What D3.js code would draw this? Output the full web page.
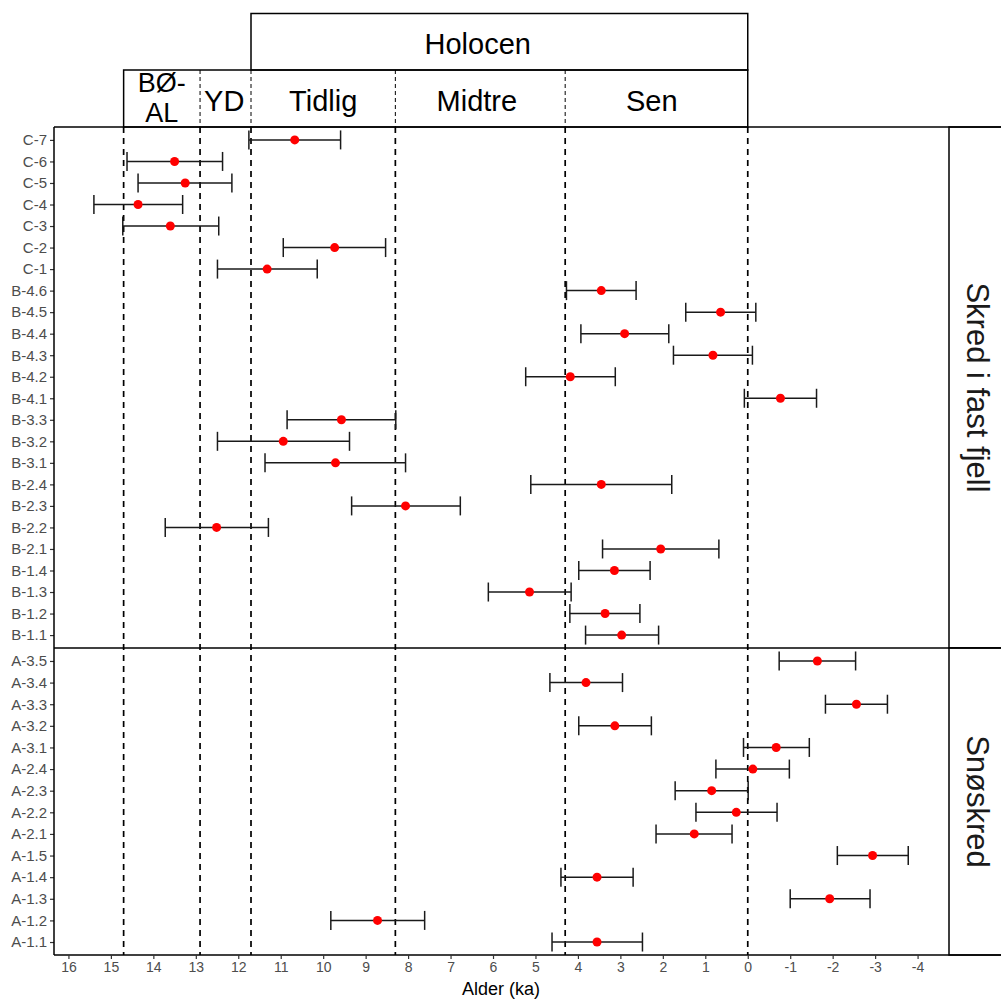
<!DOCTYPE html>
<html><head><meta charset="utf-8">
<script src="https://cdn.jsdelivr.net/npm/d3@7"></script>
<style>body{margin:0;background:#fff}svg{display:block}text{font-family:"Liberation Sans",Arial,sans-serif}</style>
</head><body><svg id="c" width="1001" height="1001"></svg>
<script>
const topLabels = ["C-7","C-6","C-5","C-4","C-3","C-2","C-1","B-4.6","B-4.5","B-4.4","B-4.3","B-4.2","B-4.1","B-3.3","B-3.2","B-3.1","B-2.4","B-2.3","B-2.2","B-2.1","B-1.4","B-1.3","B-1.2","B-1.1"];
const topAge   = [10.67,13.50,13.25,14.36,13.60,9.73,11.32,3.45,0.64,2.90,0.82,4.18,-0.77,9.57,10.94,9.71,3.45,8.06,12.51,2.05,3.14,5.14,3.36,2.97];
const topOld   = [11.75,14.62,14.36,15.40,14.72,10.94,12.49,4.27,1.46,3.93,1.75,5.23,0.08,10.85,12.49,11.37,5.11,9.33,13.72,3.42,3.98,6.11,4.19,3.82];
const topYoung = [9.59,12.37,12.15,13.31,12.46,8.53,10.14,2.63,-0.19,1.86,-0.11,3.12,-1.62,8.29,9.38,8.06,1.79,6.77,11.29,0.68,2.30,4.16,2.54,2.10];

const botLabels = ["A-3.5","A-3.4","A-3.3","A-3.2","A-3.1","A-2.4","A-2.3","A-2.2","A-2.1","A-1.5","A-1.4","A-1.3","A-1.2","A-1.1"];
const botAge   = [-1.64,3.81,-2.56,3.13,-0.67,-0.12,0.85,0.27,1.26,-2.94,3.55,-1.93,8.72,3.55];
const botOld   = [-0.74,4.66,-1.83,3.98,0.10,0.75,1.71,1.22,2.16,-2.11,4.40,-1.00,9.82,4.61];
const botYoung = [-2.54,2.95,-3.29,2.27,-1.45,-0.98,-0.01,-0.69,0.37,-3.78,2.70,-2.88,7.61,2.48];

const facetNames = ["Skred i fast fjell","Snøskred"];
const boundaries = [14.7,12.9,11.7,8.3,4.3,0];
const periodNames = [["BØ-","AL"],["YD"],["Tidlig"],["Midtre"],["Sen"]];
const periodLabelAt = [13.8,12.33,10.0,6.38,2.26];
const epochName = "Holocen";
const epochLabelAt = 6.36;
const xTicks = [16,15,14,13,12,11,10,9,8,7,6,5,4,3,2,1,0,-1,-2,-3,-4];
const xTitle = "Alder (ka)";

const svg = d3.select("#c");
const L = 54, R = 949, T = 127, M = 648, B = 955;
const x = d3.scaleLinear().domain([16.34,-4.74]).range([L,R]);

const panels = [
  {labels: topLabels, age: topAge, old: topOld, young: topYoung, y0: T, y1: M, name: facetNames[0]},
  {labels: botLabels, age: botAge, old: botOld, young: botYoung, y0: M, y1: B, name: facetNames[1]}
];

svg.append("g").selectAll("line").data(boundaries).join("line")
  .attr("x1", d=>x(d)).attr("x2", d=>x(d)).attr("y1", T).attr("y2", B)
  .attr("stroke","#000").attr("stroke-width",1.7).attr("stroke-dasharray","6,5");

panels.forEach(p => {
  const y = d3.scalePoint().domain(p.labels).range([p.y0,p.y1]).padding(0.6);
  const g = svg.append("g");
  const rows = p.labels.map((l,i)=>({l, a:p.age[i], o:p.old[i], yg:p.young[i]}));
  g.selectAll(".eb").data(rows).join("line")
    .attr("x1", d=>x(d.o)).attr("x2", d=>x(d.yg)).attr("y1", d=>y(d.l)).attr("y2", d=>y(d.l))
    .attr("stroke","#1a1a1a").attr("stroke-width",1.5);
  ["o","yg"].forEach(k=>{
    g.selectAll(".cap"+k).data(rows).join("line")
      .attr("x1", d=>x(d[k])).attr("x2", d=>x(d[k])).attr("y1", d=>y(d.l)-9.5).attr("y2", d=>y(d.l)+9.5)
      .attr("stroke","#1a1a1a").attr("stroke-width",1.5);
  });
  g.selectAll("circle").data(rows).join("circle")
    .attr("cx", d=>x(d.a)).attr("cy", d=>y(d.l)).attr("r",4.5).attr("fill","#f00");
  const ax = svg.append("g").attr("transform",`translate(${L},0)`)
    .call(d3.axisLeft(y).tickSize(4).tickPadding(3));
  ax.select(".domain").remove();
  ax.selectAll(".tick line").attr("stroke","#333").attr("stroke-width",1.2);
  ax.selectAll(".tick text").attr("fill","#4d4d4d").style("font-size","15px").style("font-family","Liberation Sans, Arial, sans-serif");
  svg.append("rect").attr("x",R).attr("y",p.y0).attr("width",60).attr("height",p.y1-p.y0)
    .attr("fill","#fff").attr("stroke","#000").attr("stroke-width",1.5);
  svg.append("text").attr("transform",`translate(${R+18},${(p.y0+p.y1)/2}) rotate(90)`)
    .attr("text-anchor","middle").style("font-size","31px").attr("fill","#1a1a1a").text(p.name);
});

[T,M,B].forEach(yy=>svg.append("line").attr("x1",L).attr("x2",1001).attr("y1",yy).attr("y2",yy)
  .attr("stroke","#000").attr("stroke-width",1.5));
svg.append("line").attr("x1",L).attr("x2",L).attr("y1",T).attr("y2",B).attr("stroke","#000").attr("stroke-width",1.5);

const xa = svg.append("g").attr("transform",`translate(0,${B})`)
  .call(d3.axisBottom(x).tickValues(xTicks).tickFormat(d=>String(d)).tickSize(4).tickPadding(3));
xa.select(".domain").remove();
xa.selectAll(".tick line").attr("stroke","#333").attr("stroke-width",1.2);
xa.selectAll(".tick text").attr("fill","#4d4d4d").style("font-size","14px").style("font-family","Liberation Sans, Arial, sans-serif");
svg.append("text").attr("x",501).attr("y",995).attr("text-anchor","middle")
  .style("font-size","18px").attr("fill","#000").text(xTitle);

const hT = 13.5, hM = 70;
svg.append("rect").attr("x",x(boundaries[2])).attr("y",hT).attr("width",x(0)-x(boundaries[2])).attr("height",hM-hT)
  .attr("fill","none").attr("stroke","#000").attr("stroke-width",1.5);
svg.append("rect").attr("x",x(boundaries[0])).attr("y",hM).attr("width",x(0)-x(boundaries[0])).attr("height",T-hM)
  .attr("fill","none").attr("stroke","#000").attr("stroke-width",1.5);
svg.append("g").selectAll("line").data(boundaries.slice(1,5)).join("line")
  .attr("x1",d=>x(d)).attr("x2",d=>x(d)).attr("y1",hM).attr("y2",T)
  .attr("stroke","#000").attr("stroke-width",1).attr("stroke-dasharray","4,3");
svg.append("text").attr("x",x(epochLabelAt)).attr("y",54).attr("text-anchor","middle")
  .style("font-size","29px").text(epochName);
periodNames.forEach((lines,i)=>{
  const cx = x(periodLabelAt[i]);
  if(lines.length===1){
    svg.append("text").attr("x",cx).attr("y",110.5).attr("text-anchor","middle").style("font-size","29px").text(lines[0]);
  } else {
    lines.forEach((t,j)=>svg.append("text").attr("x",cx).attr("y",92+j*29.5).attr("text-anchor","middle").style("font-size","27px").text(t));
  }
});
</script></body></html>
